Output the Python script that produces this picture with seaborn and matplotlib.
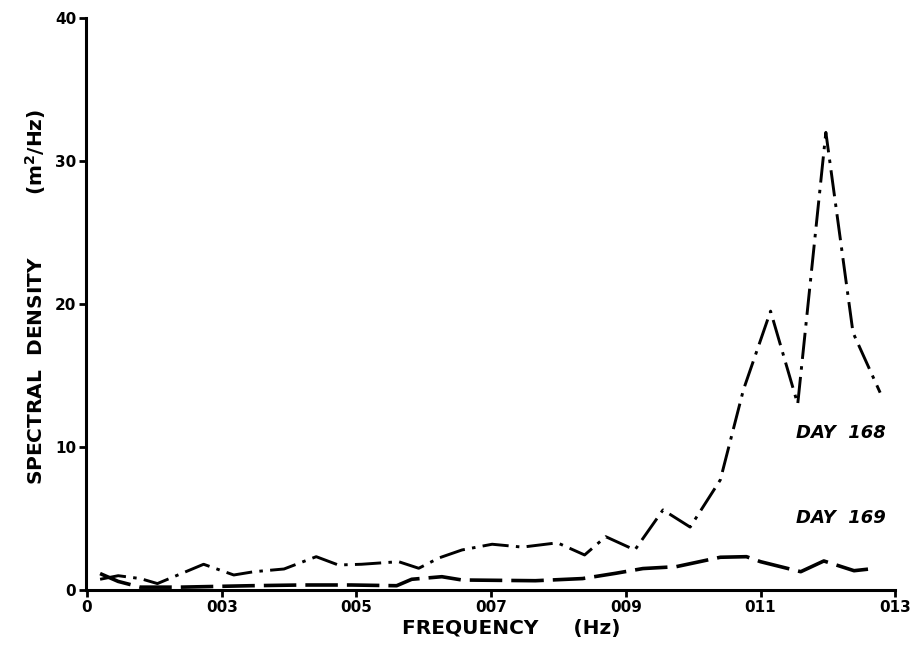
import matplotlib
matplotlib.use("Agg")
import matplotlib.pyplot as plt
import seaborn as sns
import numpy as np
import pandas as pd

# ---- data ----
day168_freq = [0.01194, 0.01463, 0.01791, 0.02045, 0.02731, 0.03179, 0.03478, 0.03925,
               0.04403, 0.04731, 0.05075, 0.05627, 0.05925, 0.06224, 0.06567, 0.07015,
               0.07463, 0.07985, 0.08388, 0.08701, 0.09134, 0.09552, 0.09955, 0.10403,
               0.10746, 0.11149, 0.11552, 0.11970, 0.12373, 0.12776]
day168_psd = [0.75, 1.0, 0.8, 0.45, 1.8, 1.05, 1.28, 1.47,
              2.33, 1.75, 1.8, 1.98, 1.52, 2.24, 2.8, 3.2,
              3.0, 3.3, 2.45, 3.73, 2.8, 5.6, 4.4, 7.7,
              14.0, 19.5, 13.0, 32.0, 18.0, 13.8]

day169_freq = [0.01194, 0.01463, 0.01791, 0.02388, 0.03433, 0.04179, 0.04925, 0.05597,
               0.05821, 0.06269, 0.06567, 0.07657, 0.08358, 0.08851, 0.09254, 0.09746,
               0.10403, 0.10791, 0.11000, 0.11597, 0.11940, 0.12388, 0.12716]
day169_psd = [1.15, 0.6, 0.2, 0.2, 0.3, 0.35, 0.35, 0.3,
              0.75, 0.93, 0.7, 0.65, 0.8, 1.17, 1.5, 1.63,
              2.29, 2.33, 1.98, 1.28, 2.03, 1.35, 1.52]

x_ticks = [0.01, 0.03, 0.05, 0.07, 0.09, 0.11, 0.13]
x_ticklabels = ["0", "003", "005", "007", "009", "011", "013"]
y_ticks = [0, 10, 20, 30, 40]
y_ticklabels = ["0", "10", "20", "30", "40"]

sns.set_theme(style="ticks")
plt.rcParams['font.family'] = ['DejaVu Sans']
plt.rcParams['text.color'] = 'black'
plt.rcParams['axes.labelcolor'] = 'black'
plt.rcParams['xtick.color'] = 'black'
plt.rcParams['ytick.color'] = 'black'

fig = plt.figure(figsize=(9.18, 6.49), dpi=100)
ax = fig.add_axes([0.0937, 0.0909, 0.8815, 0.8814])

sns.lineplot(x=day168_freq, y=day168_psd, ax=ax, color="black", linewidth=2.1,
             sort=False, linestyle=(0, (9, 2.5, 1.2, 2.5)))
sns.lineplot(x=day169_freq, y=day169_psd, ax=ax, color="black", linewidth=2.6,
             sort=False, linestyle=(0, (9, 2.5)))

ax.set_xlim(0.00985, 0.13)
ax.set_ylim(0, 40)
ax.set_xticks(x_ticks)
ax.set_xticklabels(x_ticklabels, fontsize=11, fontweight="bold")
ax.set_yticks(y_ticks)
ax.set_yticklabels(y_ticklabels, fontsize=11, fontweight="bold")
ax.tick_params(axis="both", direction="out", length=5, width=2, color="black", pad=2)

for s in ["top", "right"]:
    ax.spines[s].set_visible(False)
for s in ["left", "bottom"]:
    ax.spines[s].set_linewidth(2.2)
    ax.spines[s].set_color("black")

ax.set_xlabel("FREQUENCY     (Hz)", fontsize=14.5, fontweight="bold")
ax.xaxis.set_label_coords(0.525, -0.05)
ax.set_ylabel("SPECTRAL  DENSITY         (m$^{\\mathbf{2}}$/Hz)", fontsize=14.5, fontweight="bold")
ax.yaxis.set_label_coords(-0.047, 0.512)

ax.text(0.1153, 10.6, "DAY  168", fontsize=13, fontstyle="italic", fontweight="bold")
ax.text(0.1153, 4.7, "DAY  169", fontsize=13, fontstyle="italic", fontweight="bold")

fig.savefig("out.png", dpi=100)
